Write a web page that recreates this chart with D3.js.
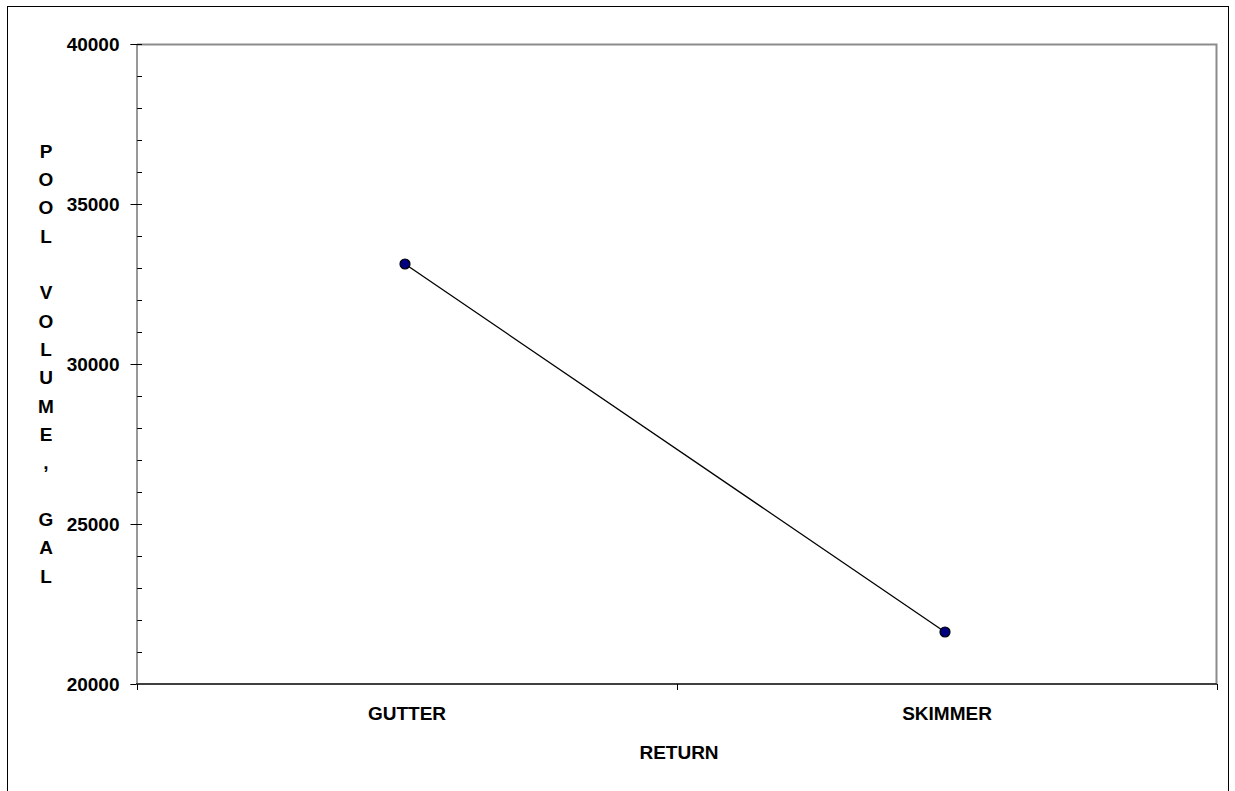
<!DOCTYPE html>
<html>
<head>
<meta charset="utf-8">
<script src="https://cdn.jsdelivr.net/npm/d3@7"></script>
<style>
  body { margin: 0; background: #fff; }
  text { font-family: "Liberation Sans", Arial, sans-serif; font-weight: bold; font-size: 19px; fill: #000; }
</style>
</head>
<body>
<div id="chart"></div>
<script>
var categories = ["GUTTER", "SKIMMER"];
var volumes = [33125, 21625];
var yMajorTicks = [20000, 25000, 30000, 35000, 40000];
var yMinorTicks = d3.range(20000, 40001, 1000);
var yTitleLetters = ["P", "O", "O", "L", "", "V", "O", "L", "U", "M", "E", ",", "", "G", "A", "L"];

var W = 1235, H = 791;
var margin = { top: 44, right: 18, bottom: 107, left: 137 };
var width = W - margin.left - margin.right, height = H - margin.top - margin.bottom;

var svg = d3.select("#chart").append("svg")
    .attr("width", W)
    .attr("height", H);

// outer frame
svg.append("rect")
    .attr("x", 7.5).attr("y", 6.5)
    .attr("width", 1221).attr("height", 800)
    .attr("fill", "none").attr("stroke", "#000").attr("stroke-width", 1);

var g = svg.append("g")
    .attr("transform", "translate(" + margin.left + "," + margin.top + ")");

var x = d3.scaleBand().domain(categories).range([0, width]);
var y = d3.scaleLinear().domain([20000, 40000]).range([height, 0]);

// plot border top / right
g.append("path")
    .attr("d", "M0,0.5H" + (width - 0.5) + "V" + height)
    .attr("fill", "none").attr("stroke", "#8c8c8c").attr("stroke-width", 2);

// minor y ticks (inside)
g.selectAll(".minor")
    .data(yMinorTicks)
  .enter().append("line")
    .attr("x1", 0).attr("x2", 5)
    .attr("y1", function (d) { return Math.round(y(d)) + 0.5; })
    .attr("y2", function (d) { return Math.round(y(d)) + 0.5; })
    .attr("stroke", "#000");

// y axis
var yAxis = g.append("g")
    .attr("transform", "translate(-0.5,0)")
    .call(d3.axisLeft(y).tickValues(yMajorTicks).tickSize(6).tickPadding(11).tickFormat(d3.format("d")));
yAxis.select(".domain").attr("stroke", "#333");
yAxis.selectAll(".tick line").attr("x2", 5).attr("x1", -6).attr("stroke", "#000");
yAxis.selectAll("text").attr("dy", "0.36em").style("font-size", "19px").style("font-family", null);

// x axis
var xEdges = [0].concat(categories.map(function (c) { return x(c) + x.bandwidth(); }));
var xAxis = g.append("g")
    .attr("transform", "translate(0," + height + ")");
xAxis.append("line")
    .attr("x1", -1).attr("x2", width)
    .attr("stroke", "#404040").attr("stroke-width", 2);
xAxis.selectAll(".xtick")
    .data(xEdges)
  .enter().append("line")
    .attr("x1", function (d) { return d + 0.5; })
    .attr("x2", function (d) { return d + 0.5; })
    .attr("y1", 0).attr("y2", 6)
    .attr("stroke", "#000");
xAxis.selectAll(".xlabel")
    .data(categories)
  .enter().append("text")
    .attr("x", function (d) { return x(d) + x.bandwidth() / 2; })
    .attr("y", 36)
    .attr("text-anchor", "middle")
    .text(function (d) { return d; });

// axis titles
svg.append("text")
    .attr("x", 679).attr("y", 759)
    .attr("text-anchor", "middle")
    .text("RETURN");

svg.append("g").selectAll("text")
    .data(yTitleLetters)
  .enter().append("text")
    .attr("x", 46)
    .attr("y", function (d, i) { return 157.5 + i * 28.35; })
    .attr("text-anchor", "middle")
    .text(function (d) { return d; });

// line + markers
var pts = categories.map(function (c, i) { return { c: c, v: volumes[i] }; });
var line = d3.line()
    .x(function (d) { return x(d.c) + x.bandwidth() / 2 - 2; })
    .y(function (d) { return y(d.v); });

g.append("path")
    .datum(pts)
    .attr("d", line)
    .attr("fill", "none").attr("stroke", "#000").attr("stroke-width", 1.3);

g.selectAll(".dot")
    .data(pts)
  .enter().append("circle")
    .attr("cx", function (d) { return x(d.c) + x.bandwidth() / 2 - 2; })
    .attr("cy", function (d) { return y(d.v); })
    .attr("r", 5)
    .attr("fill", "#000080").attr("stroke", "#000").attr("stroke-width", 1.2);
</script>
</body>
</html>
